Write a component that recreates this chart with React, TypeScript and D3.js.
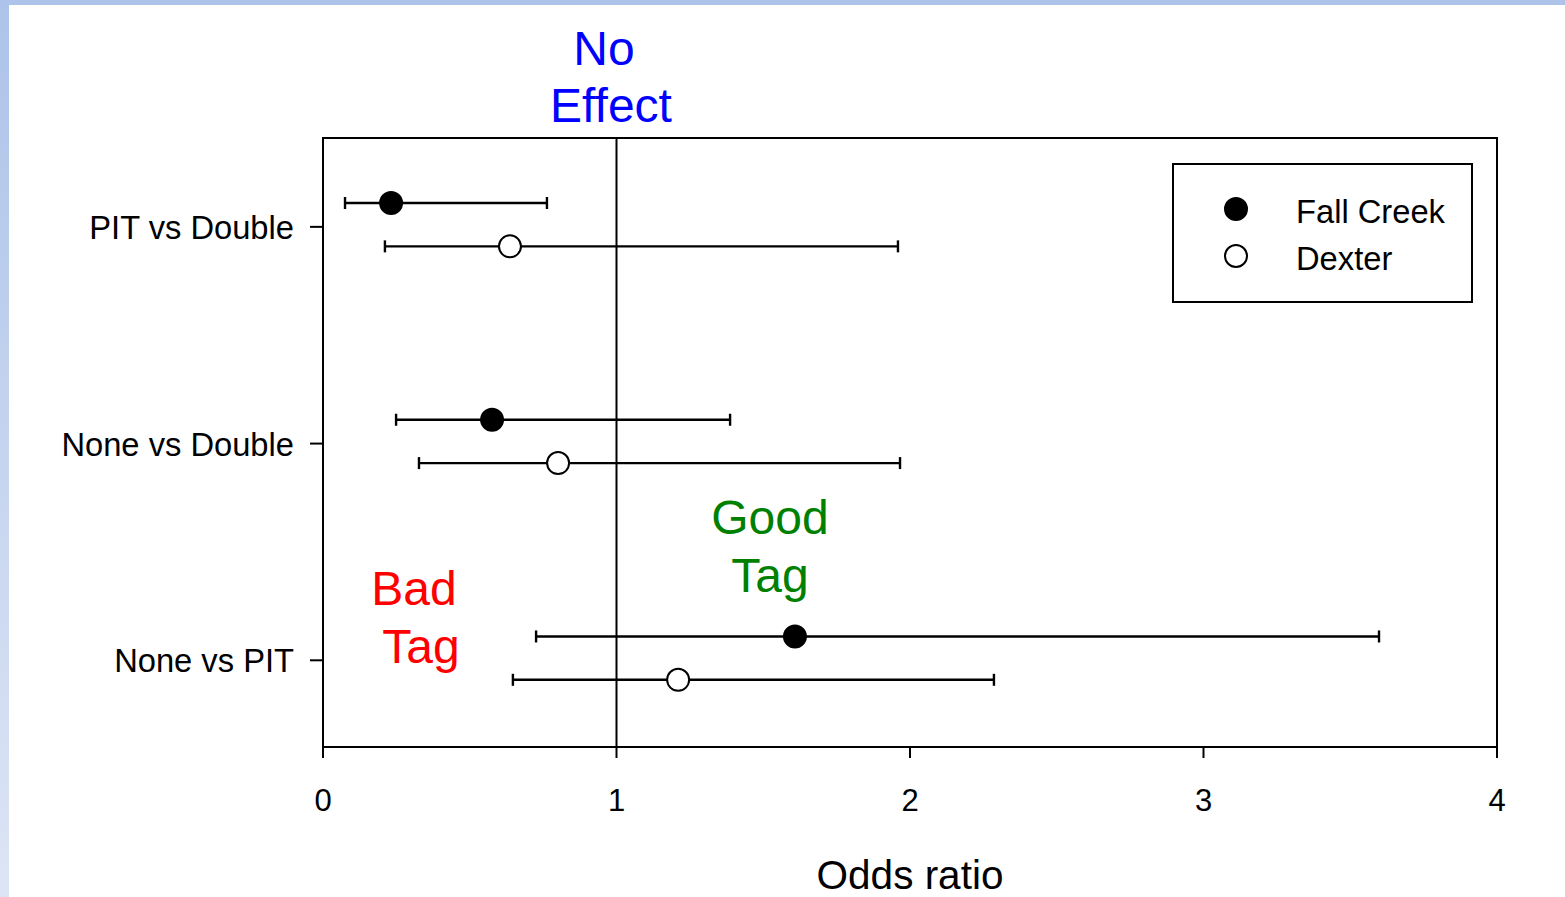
import React from 'react'
import * as d3 from 'd3'

// comparisons, top to bottom
const comparisons = ['PIT vs Double', 'None vs Double', 'None vs PIT']
const seriesNames = ['Fall Creek', 'Dexter']

// odds ratio estimates with lower/upper CI
const fallCreekOR = [0.232, 0.576, 1.608]
const fallCreekLow = [0.075, 0.249, 0.726]
const fallCreekHigh = [0.763, 1.387, 3.598]

const dexterOR = [0.637, 0.801, 1.21]
const dexterLow = [0.211, 0.327, 0.647]
const dexterHigh = [1.959, 1.966, 2.286]

const xTicks = [0, 1, 2, 3, 4]

const W = 1565
const H = 897
const font = 'Arial, "Liberation Sans", Helvetica, sans-serif'

export default function App() {
  const x = d3.scaleLinear().domain([0, 4]).range([323, 1497])
  const y = d3.scaleLinear().domain([-0.41, 2.4]).range([138, 747])

  const series = [
    { name: seriesNames[0], or: fallCreekOR, lo: fallCreekLow, hi: fallCreekHigh, off: -0.11, fill: '#000' },
    { name: seriesNames[1], or: dexterOR, lo: dexterLow, hi: dexterHigh, off: 0.09, fill: '#fff' },
  ]

  const cap = 6
  const r = 12

  return (
    <svg width={W} height={H} style={{ position: 'absolute', left: 0, top: 0, background: '#fff' }}>
      <defs>
        <linearGradient id="side" x1="0" y1="0" x2="0" y2="1">
          <stop offset="0%" stopColor="#adc3e9" />
          <stop offset="100%" stopColor="#dde5f5" />
        </linearGradient>
      </defs>
      <rect x={0} y={0} width={W} height={5} fill="#adc3e9" />
      <rect x={0} y={0} width={9} height={H} fill="url(#side)" />

      {/* plot frame */}
      <rect x={x(0)} y={y(-0.41)} width={x(4) - x(0)} height={y(2.4) - y(-0.41)}
        fill="none" stroke="#000" strokeWidth={2} />

      {/* no-effect line */}
      <line x1={x(1)} x2={x(1)} y1={y(-0.41)} y2={y(2.4)} stroke="#000" strokeWidth={2} />

      {/* x axis ticks */}
      {xTicks.map(t => (
        <g key={t}>
          <line x1={x(t)} x2={x(t)} y1={747} y2={758} stroke="#000" strokeWidth={2} />
          <text x={x(t)} y={811} textAnchor="middle" fontSize={31} fontFamily={font}>{t}</text>
        </g>
      ))}
      <text x={x(2)} y={889} textAnchor="middle" fontSize={40.5} fontFamily={font}>Odds ratio</text>

      {/* y axis ticks and labels */}
      {comparisons.map((c, i) => (
        <g key={c}>
          <line x1={310} x2={323} y1={y(i)} y2={y(i)} stroke="#000" strokeWidth={2} />
          <text x={294} y={y(i) + 12} textAnchor="end" fontSize={32.7} fontFamily={font}>{c}</text>
        </g>
      ))}

      {/* error bars and points */}
      {series.map(s => (
        <g key={s.name}>
          {comparisons.map((c, i) => {
            const yy = y(i + s.off)
            return (
              <g key={c}>
                <line x1={x(s.lo[i])} x2={x(s.hi[i])} y1={yy} y2={yy} stroke="#000" strokeWidth={2.4} />
                <line x1={x(s.lo[i])} x2={x(s.lo[i])} y1={yy - cap} y2={yy + cap} stroke="#000" strokeWidth={2.4} />
                <line x1={x(s.hi[i])} x2={x(s.hi[i])} y1={yy - cap} y2={yy + cap} stroke="#000" strokeWidth={2.4} />
                <circle cx={x(s.or[i])} cy={yy} r={r - 1} fill={s.fill} stroke="#000" strokeWidth={2} />
              </g>
            )
          })}
        </g>
      ))}

      {/* legend */}
      <rect x={1173} y={164} width={299} height={138} fill="#fff" stroke="#000" strokeWidth={2} />
      {series.map((s, i) => (
        <g key={s.name}>
          <circle cx={1236} cy={209 + i * 47} r={r - 1} fill={s.fill} stroke="#000" strokeWidth={2} />
          <text x={1296} y={223 + i * 47} fontSize={32.7} fontFamily={font}>{s.name}</text>
        </g>
      ))}

      {/* annotations */}
      <text x={604} y={65} textAnchor="middle" fontSize={48} fontFamily={font} fill="#0000ff">No</text>
      <text x={611} y={122} textAnchor="middle" fontSize={48} fontFamily={font} fill="#0000ff">Effect</text>
      <text x={770} y={534} textAnchor="middle" fontSize={48} fontFamily={font} fill="#008000">Good</text>
      <text x={770} y={592} textAnchor="middle" fontSize={48} fontFamily={font} fill="#008000">Tag</text>
      <text x={414} y={605} textAnchor="middle" fontSize={48} fontFamily={font} fill="#ff0000">Bad</text>
      <text x={421} y={663} textAnchor="middle" fontSize={48} fontFamily={font} fill="#ff0000">Tag</text>
    </svg>
  )
}
